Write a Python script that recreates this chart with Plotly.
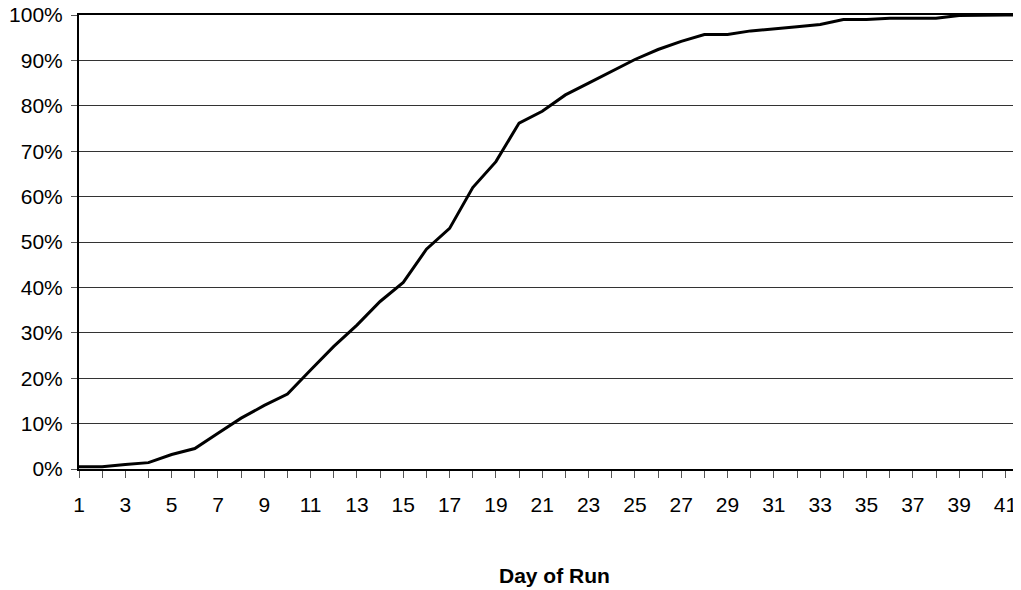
import plotly.graph_objects as go

days = list(range(1, 43))
pct = [0.5, 0.5, 1.0, 1.4, 3.2, 4.5, 7.9, 11.2, 14.0, 16.5,
       21.8, 27.0, 31.7, 36.9, 41.1, 48.4, 53.0, 62.0, 67.7, 76.2,
       78.8, 82.4, 85.0, 87.6, 90.2, 92.4, 94.2, 95.7, 95.7, 96.5,
       96.9, 97.4, 97.9, 99.0, 99.0, 99.3, 99.3, 99.3, 99.9, 100.0,
       100.0, 100.0]
x_tickvals = list(range(1, 43))
x_ticktext = [str(d) if d % 2 == 1 else "" for d in x_tickvals]
y_tickvals = list(range(0, 101, 10))
y_ticktext = [f"{v}%" for v in y_tickvals]
x_title = "Day of Run"

FONT = "Liberation Sans, Arial, sans-serif"

# page body has an 8px offset; margins compensate so the plot lands where the reference has it
L, T, R_, B = 71, 7, 8, 129
W, H = 1021, 590
plot_w = W - L - R_
plot_h = H - T - B

fig = go.Figure()
fig.add_trace(go.Scatter(x=days, y=pct, mode="lines",
                         line=dict(color="black", width=3),
                         cliponaxis=False, showlegend=False))

fig.update_layout(
    width=W, height=H,
    margin=dict(l=L, r=R_, t=T, b=B, autoexpand=False),
    paper_bgcolor="white", plot_bgcolor="white",
    font=dict(family=FONT, size=21, color="black"),
    xaxis=dict(range=[1, 41.67], tickmode="array", tickvals=x_tickvals,
               ticktext=x_ticktext, ticks="outside", ticklen=7, tickwidth=1,
               tickcolor="#555555", showgrid=False, showline=True, mirror=True,
               linecolor="black", linewidth=2, zeroline=False, automargin=False,
               ticklabelstandoff=9, ticklabeloverflow="allow"),
    yaxis=dict(range=[0, 100], tickmode="array", tickvals=y_tickvals,
               ticktext=y_ticktext, ticks="outside", ticklen=6, tickwidth=1,
               tickcolor="#555555", showgrid=True, gridcolor="#333333",
               gridwidth=1, showline=True, linecolor="black", linewidth=2,
               zeroline=False, automargin=False,
               ticklabelstandoff=4, ticklabeloverflow="allow"),
    annotations=[dict(text="<b>" + x_title + "</b>", xref="paper", yref="paper",
                      x=(546 - L) / plot_w, y=-(567 - (H - B)) / plot_h,
                      xanchor="center", yanchor="middle", showarrow=False,
                      font=dict(family=FONT, size=21, color="black"))],
)

fig.write_html("out.html")
